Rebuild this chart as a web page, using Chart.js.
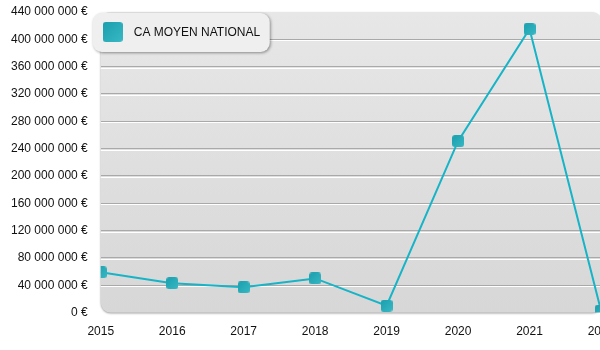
<!DOCTYPE html>
<html>
<head>
<meta charset="utf-8">
<script src="https://cdn.jsdelivr.net/npm/chart.js@4"></script>
<style>
  html, body { margin: 0; padding: 0; background: #fff; overflow: hidden; }
  #wrap { width: 600px; height: 350px; overflow: hidden; }
  #box { width: 615px; height: 350px; }
</style>
</head>
<body>
<div id="wrap"><div id="box"><canvas id="chart"></canvas></div></div>
<script>
const years = ["2015", "2016", "2017", "2018", "2019", "2020", "2021", "2022"];
const caMoyen = [59000000, 43000000, 37000000, 50000000, 10000000, 251000000, 415000000, 3000000];
const seriesLabel = "CA MOYEN NATIONAL";

const FONT = "'Liberation Sans', Arial, Helvetica, sans-serif";
const LINE_COLOR = "#16b4c6";

function euro(v) {
  return String(v).replace(/\B(?=(\d{3})+(?!\d))/g, " ") + " €";
}

function roundRect(ctx, x, y, w, h, r) {
  ctx.beginPath();
  ctx.moveTo(x + r, y);
  ctx.arcTo(x + w, y, x + w, y + h, r);
  ctx.arcTo(x + w, y + h, x, y + h, r);
  ctx.arcTo(x, y + h, x, y, r);
  ctx.arcTo(x, y, x + w, y, r);
  ctx.closePath();
}

// small teal rounded square used for the markers and the legend swatch
function makeMarker(size, radius) {
  const c = document.createElement("canvas");
  c.width = size;
  c.height = size;
  const g = c.getContext("2d");
  const grad = g.createLinearGradient(0, 0, size, size);
  grad.addColorStop(0, "#1b9fae");
  grad.addColorStop(1, "#38b8c4");
  g.fillStyle = grad;
  roundRect(g, 0, 0, size, size, radius);
  g.fill();
  return c;
}
const marker = makeMarker(12, 3);

// let the layout padding alone decide where the plot area sits
function noOverflow(scale) {
  scale.paddingTop = 0;
  scale.paddingBottom = 0;
  scale.paddingLeft = 0;
  scale.paddingRight = 0;
}

const panelPlugin = {
  id: "panel",
  beforeDraw(chart) {
    const { ctx, chartArea: a } = chart;
    ctx.save();
    const grad = ctx.createLinearGradient(0, a.top, 0, a.bottom);
    grad.addColorStop(0, "#e7e7e7");
    grad.addColorStop(1, "#d7d7d7");
    ctx.shadowColor = "rgba(0,0,0,0.35)";
    ctx.shadowBlur = 2;
    ctx.shadowOffsetY = 1;
    ctx.fillStyle = grad;
    roundRect(ctx, a.left, a.top, a.right - a.left + 1, a.bottom - a.top, 10);
    ctx.fill();
    ctx.restore();
  },
  beforeDatasetsDraw(chart) {
    // white highlight under each grid line
    const { ctx, chartArea: a, scales } = chart;
    const y = scales.y;
    ctx.save();
    ctx.strokeStyle = "#ffffff";
    ctx.lineWidth = 1;
    y.ticks.forEach((t) => {
      if (t.value === 0 || t.value === y.max) return;
      const py = Math.round(y.getPixelForValue(t.value)) + 1.5;
      ctx.beginPath();
      ctx.moveTo(a.left, py);
      ctx.lineTo(a.right, py);
      ctx.stroke();
    });
    ctx.restore();
  },
  afterDraw(chart) {
    const { ctx, chartArea: a } = chart;
    const x = a.left - 8;
    const y = a.top + 1;
    ctx.save();
    ctx.shadowColor = "rgba(0,0,0,0.4)";
    ctx.shadowBlur = 3;
    ctx.shadowOffsetX = 1;
    ctx.shadowOffsetY = 1;
    ctx.fillStyle = "#efefef";
    roundRect(ctx, x, y, 177, 39, 9);
    ctx.fill();
    ctx.restore();

    ctx.save();
    ctx.drawImage(makeMarker(20, 3), x + 10, y + 9);
    ctx.fillStyle = "#111";
    ctx.font = "12px " + FONT;
    ctx.textBaseline = "middle";
    ctx.fillText(chart.data.datasets[0].label, x + 41, y + 20);
    ctx.restore();
  },
};

new Chart(document.getElementById("chart"), {
  type: "line",
  data: {
    labels: years,
    datasets: [
      {
        label: seriesLabel,
        data: caMoyen,
        borderColor: LINE_COLOR,
        borderWidth: 2,
        pointStyle: marker,
        pointRadius: 6,
        pointHoverRadius: 6,
        tension: 0,
        clip: 0,
      },
    ],
  },
  options: {
    responsive: true,
    maintainAspectRatio: false,
    animation: false,
    layout: { padding: { left: -2, right: 14, top: 12, bottom: -1 } },
    plugins: {
      legend: { display: false },
      tooltip: { enabled: false },
    },
    scales: {
      x: {
        afterFit: noOverflow,
        grid: { display: false, drawTicks: false },
        border: { display: false },
        ticks: {
          color: "#111",
          padding: 12,
          font: { family: FONT, size: 12 },
          maxRotation: 0,
        },
      },
      y: {
        min: 0,
        max: 440000000,
        afterFit: noOverflow,
        border: { display: false },
        grid: {
          drawTicks: false,
          color: (c) =>
            c.tick && (c.tick.value === 0 || c.tick.value === 440000000)
              ? "rgba(0,0,0,0)"
              : "#a9a9a9",
        },
        ticks: {
          stepSize: 40000000,
          color: "#111",
          padding: 13,
          font: { family: FONT, size: 12 },
          callback: (v) => euro(v),
        },
      },
    },
  },
  plugins: [panelPlugin],
});
</script>
</body>
</html>
